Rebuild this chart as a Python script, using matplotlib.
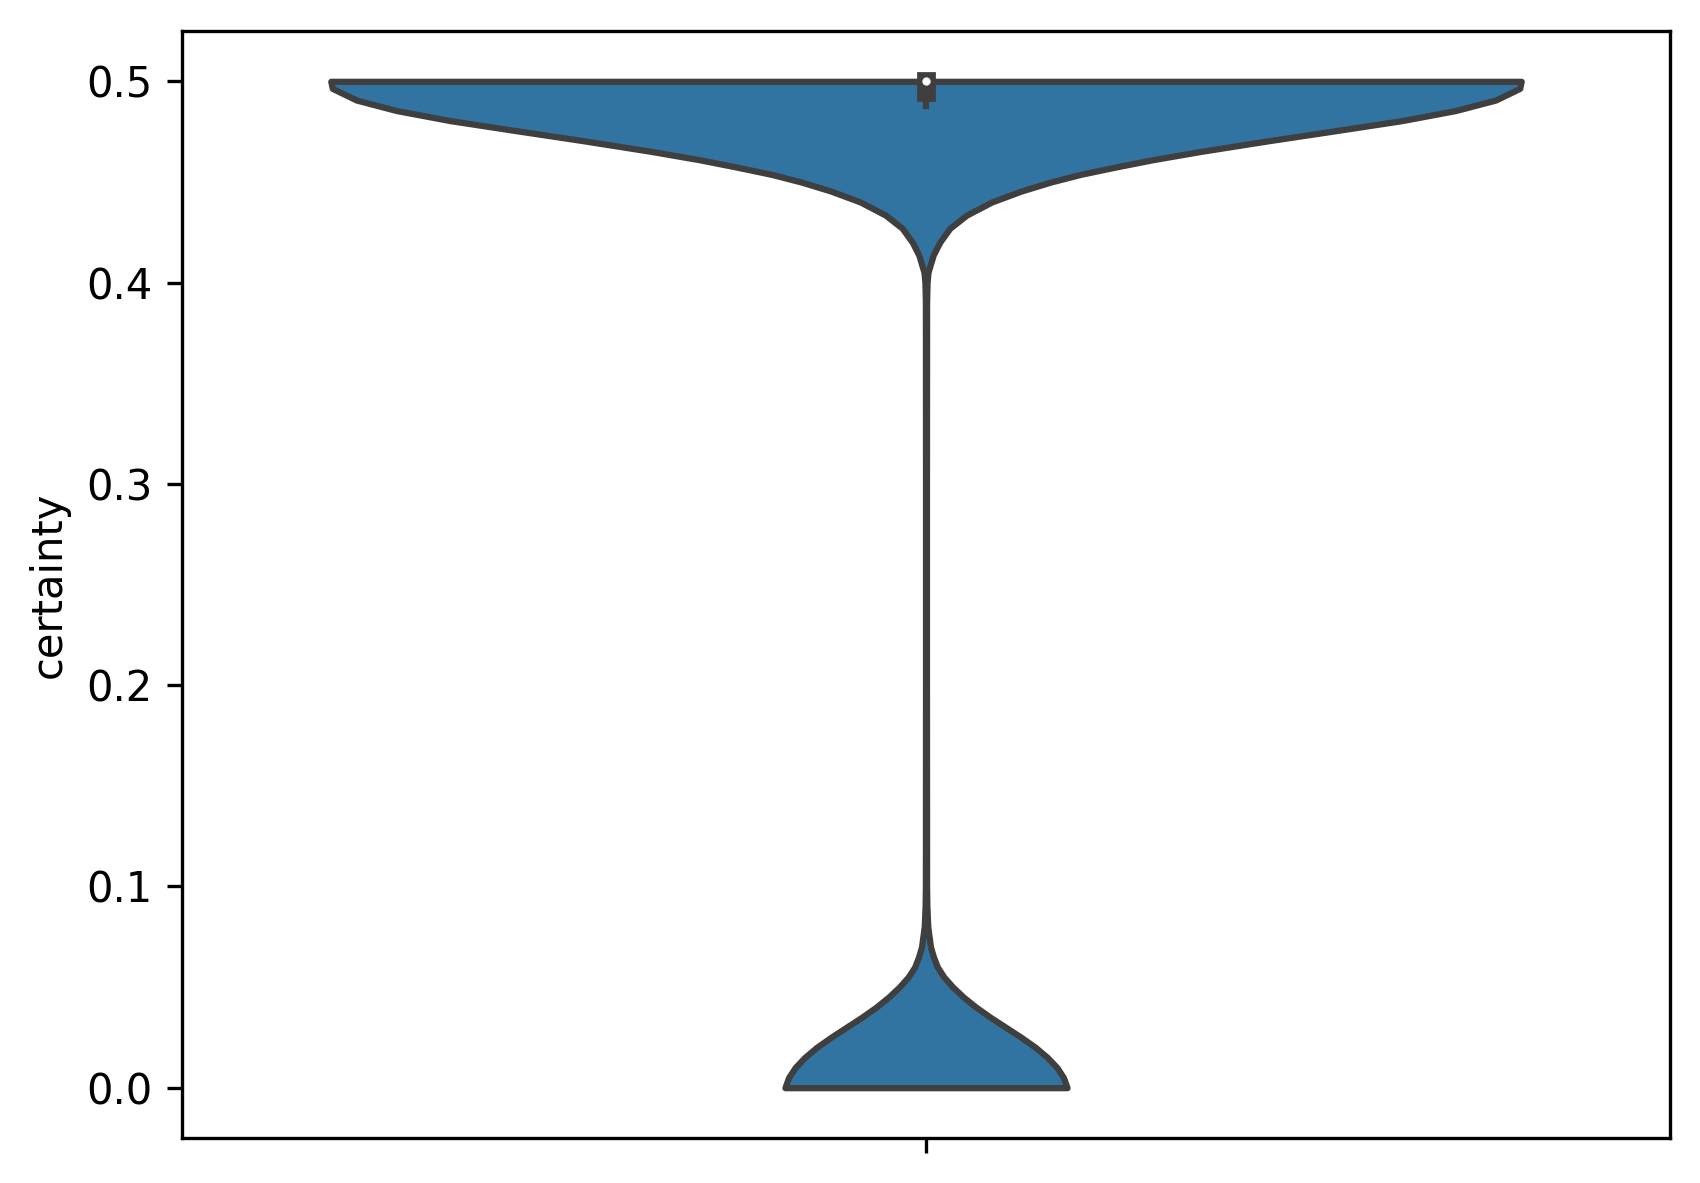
import numpy as np
import matplotlib
matplotlib.use("Agg")
import matplotlib.pyplot as plt

# violin outline: certainty level and relative density (1 = widest)
certainty = [
    0.000, 0.005, 0.010, 0.015, 0.020, 0.025, 0.030, 0.035, 0.040, 0.045,
    0.050, 0.055, 0.060, 0.065, 0.070, 0.080, 0.090, 0.100,
    0.200, 0.300, 0.390,
    0.400, 0.405, 0.4136, 0.420, 0.427, 0.4335, 0.440, 0.4455, 0.450, 0.4538,
    0.4575, 0.461, 0.4652, 0.4705, 0.4755, 0.4805, 0.4855, 0.4907, 0.4965, 0.500,
]
density = [
    0.237, 0.231, 0.220, 0.204, 0.184, 0.160, 0.134, 0.108, 0.084, 0.063,
    0.045, 0.030, 0.019, 0.0125, 0.0075, 0.003, 0.0015, 0.001,
    0.0008, 0.0008, 0.001,
    0.0018, 0.0033, 0.012, 0.023, 0.040, 0.068, 0.110, 0.160, 0.210, 0.260,
    0.320, 0.380, 0.462, 0.576, 0.689, 0.800, 0.890, 0.957, 0.9975, 1.0,
]

# box statistics
q25, q50, q75 = 0.4945, 0.500, 0.500
whisker_low, whisker_high = 0.4875, 0.500

fill_color = "#3274a1"
gray = "#3f3f3f"
lw = 1.5
half_width = 0.4

fig = plt.figure(figsize=(1700 / 300, 1183 / 300), dpi=300)
ax = fig.add_axes([182 / 1700, 45 / 1183, 1488 / 1700, 1107 / 1183])

y = np.array(certainty)
hw = np.array(density) * half_width

ax.fill_betweenx(
    y,
    -hw,
    hw,
    facecolor=fill_color,
    edgecolor=gray,
    linewidth=lw
)

ax.plot([0, 0], [whisker_low, whisker_high], linewidth=lw, color=gray)
ax.plot([0, 0], [q25, q75], linewidth=lw * 3, color=gray)
ax.scatter(0, q50, zorder=3, color="white", edgecolor=gray,
           s=np.square(lw * 2))

ax.set_xlim(-0.5, 0.5)
ax.set_ylim(-0.025, 0.525)
ax.set_xticks([0])
ax.set_xticklabels([""])
ax.set_yticks([0.0, 0.1, 0.2, 0.3, 0.4, 0.5])
ax.set_ylabel("certainty")

fig.savefig("out.png", dpi=300)
plt.close(fig)
